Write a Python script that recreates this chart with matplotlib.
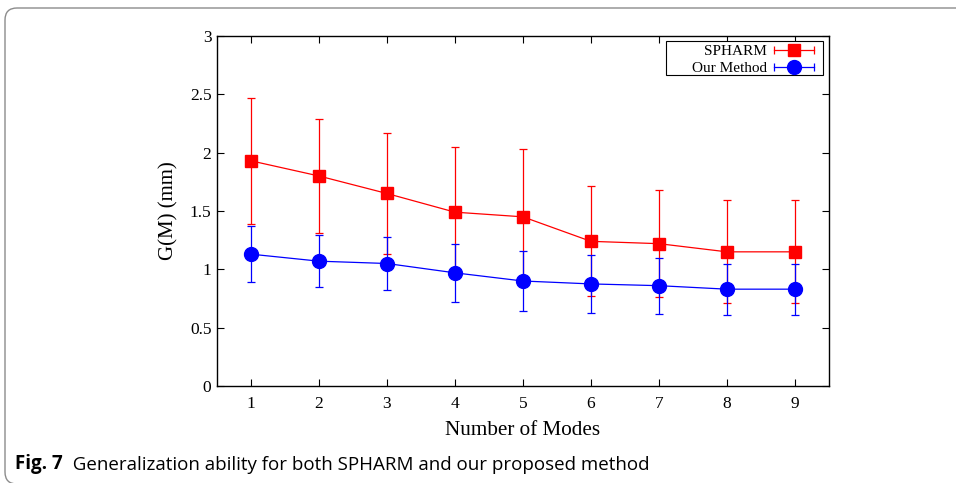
import matplotlib.pyplot as plt
from matplotlib.patches import FancyBboxPatch, Rectangle
from matplotlib.lines import Line2D
from matplotlib.legend_handler import HandlerLine2D, HandlerTuple

# mean values and error bars
modes = [1, 2, 3, 4, 5, 6, 7, 8, 9]
spharm = [1.93, 1.80, 1.65, 1.49, 1.45, 1.24, 1.22, 1.15, 1.15]
spharm_err = [0.54, 0.49, 0.52, 0.56, 0.58, 0.47, 0.46, 0.44, 0.44]
ours = [1.13, 1.07, 1.05, 0.97, 0.90, 0.875, 0.86, 0.83, 0.83]
ours_err = [0.24, 0.225, 0.225, 0.25, 0.26, 0.25, 0.24, 0.22, 0.22]
yticks = [0, 0.5, 1, 1.5, 2, 2.5, 3]
ytick_labels = ['0', '0.5', '1', '1.5', '2', '2.5', '3']

plt.rcParams['font.family'] = ['Liberation Serif', 'DejaVu Serif']

fig = plt.figure(figsize=(9.56, 4.83), dpi=100)
ax = fig.add_axes([0.227, 0.2008, 0.640, 0.7247])

ax.errorbar(modes, spharm, yerr=spharm_err, color='#ff0000', marker='s', markersize=9,
            linewidth=0.9, elinewidth=0.9, capsize=3, capthick=0.9)
ax.errorbar(modes, ours, yerr=ours_err, color='#0000ff', marker='o', markersize=10,
            linewidth=0.9, elinewidth=0.9, capsize=3, capthick=0.9)

ax.set_xlim(0.5, 9.5)
ax.set_ylim(0, 3)
ax.set_xticks(modes)
ax.set_yticks(yticks)
ax.set_yticklabels(ytick_labels)
ax.tick_params(direction='in', length=5, width=0.8, top=True, right=True, labelsize=12.5)
ax.tick_params(axis='x', pad=7)
ax.tick_params(axis='y', pad=4)
for s in ax.spines.values():
    s.set_linewidth(1.0)

ax.set_xlabel('Number of Modes', fontsize=15.2, labelpad=7)
ax.set_ylabel('G(M) (mm)', fontsize=15, labelpad=8)

# gnuplot-style legend samples: line with marker in the middle and caps at the ends
handles = []
hmap = {}
for col, mk, ms in [('#ff0000', 's', 9), ('#0000ff', 'o', 10)]:
    body = Line2D([], [], color=col, linewidth=0.9, marker=mk, markersize=ms)
    caps = Line2D([], [], color=col, linestyle='none', marker='|', markersize=6,
                  markeredgewidth=0.9)
    hmap[body] = HandlerLine2D(numpoints=1)
    hmap[caps] = HandlerLine2D(numpoints=2, marker_pad=0)
    handles.append((body, caps))
hmap[tuple] = HandlerTuple(ndivide=1, pad=0)

leg = ax.legend(handles, ['SPHARM', 'Our Method'], handler_map=hmap,
                loc='upper right', bbox_to_anchor=(0.9755, 0.975), borderaxespad=0,
                markerfirst=False, fontsize=11, frameon=False,
                handlelength=2.6, handletextpad=0.45, borderpad=0, labelspacing=0.2)
# legend box drawn separately (wider on the left, as in the original)
ax.add_patch(Rectangle((0.7337, 0.8886), 0.2565, 0.0971, transform=ax.transAxes,
                       facecolor='white', edgecolor='black', linewidth=0.8, zorder=4))
leg.set_zorder(5)

# rounded panel frame around the figure
frame = FancyBboxPatch((0.05, -0.01), 10.0, 4.76, boxstyle='round,pad=0,rounding_size=0.12',
                       transform=fig.dpi_scale_trans, facecolor='none',
                       edgecolor='#8c8c8c', linewidth=1.0)
fig.patches.append(frame)

# caption
cap = fig.text(15 / 956, 1 - 469 / 483, 'Fig. 7', fontsize=13.5, fontweight='bold',
               family='Open Sans', va='baseline', ha='left')
fig.canvas.draw()
ax.annotate('  Generalization ability for both SPHARM and our proposed method',
            xy=(1, 0), xycoords=cap, va='bottom', ha='left', fontsize=13.5,
            family='Open Sans', annotation_clip=False)

plt.savefig('out.png', dpi=100)
